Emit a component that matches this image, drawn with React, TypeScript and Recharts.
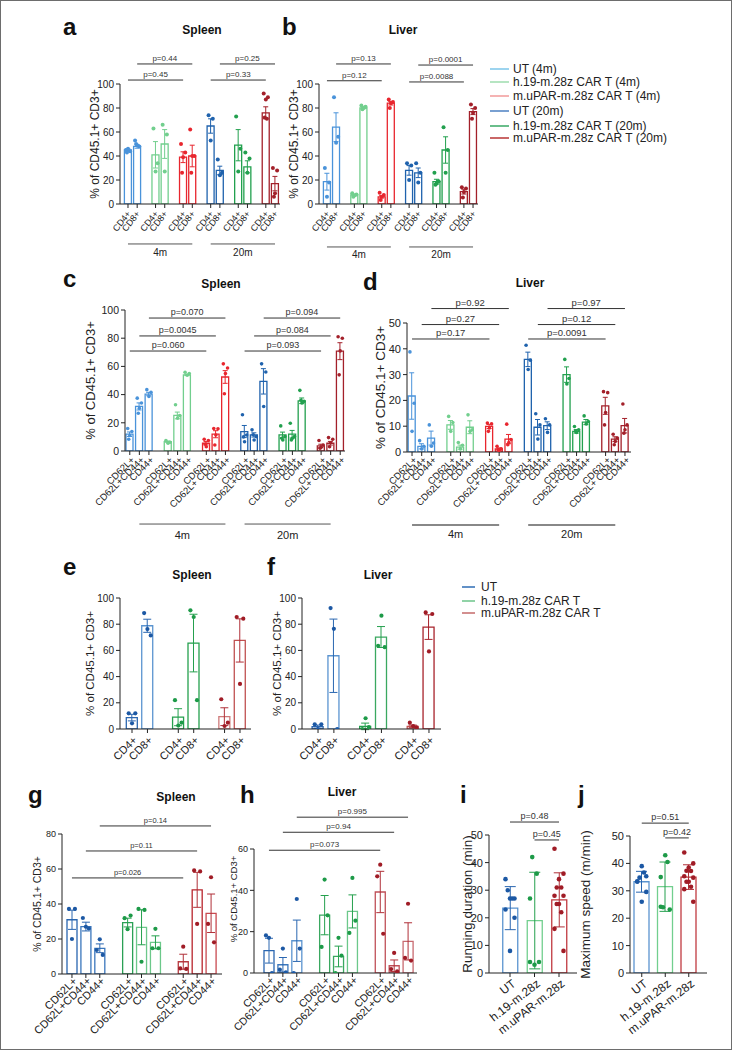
import React from 'react';
import { ComposedChart, Bar, Cell, ErrorBar, Scatter, XAxis, YAxis, ReferenceLine } from 'recharts';

const INK = '#222';
const FONT = '"Liberation Sans", Arial, Helvetica, sans-serif';

// series colours (4m light, 20m dark)
const UT4 = '#4a93da';
const H4 = '#72cf8e';
const U4 = '#e8262e';
const UT20 = '#1f62ad';
const H20 = '#22a04e';
const U20 = '#a3202a';
const SIX = [UT4, H4, U4, UT20, H20, U20];
const DOT3 = ['#1c58a4', '#1d9a48', '#a01c26'];
const ERR3 = ['#2a66b0', '#25a04e', '#b03038'];

// ---------- a: Spleen CD4/CD8, 4m vs 20m ----------
const aLabels = ['CD4+', 'CD8+', 'CD4+', 'CD8+', 'CD4+', 'CD8+', 'CD4+', 'CD8+', 'CD4+', 'CD8+', 'CD4+', 'CD8+'];
const aSeries = [0, 0, 1, 1, 2, 2, 3, 3, 4, 4, 5, 5];
const aMean = [45, 48, 41, 50, 39, 40, 65, 28, 49, 31, 76, 17];
const aSem = [1, 1.5, 11, 12, 4.5, 9, 6, 3.5, 13, 5, 5, 6];
const aDots = [
  [45, 44, 46, 43], [53, 48, 49, 50], [63, 34, 27], [66, 58, 27],
  [50, 43, 39, 26], [62, 40, 40, 26], [74, 71, 53], [37, 26, 24],
  [73, 46, 27], [43, 38, 26], [92, 89, 87, 72, 71], [30, 28, 9, 6],
];

// ---------- b: Liver CD4/CD8 ----------
const bMean = [18.6, 64, 7.5, 80, 6, 84, 28, 26, 18.6, 45, 10.3, 77];
const bSem = [7, 12, 0.7, 0.6, 1, 1.5, 4, 4, 2, 11, 2, 2.5];
const bDots = [
  [30, 18, 6], [89, 56, 51], [9, 8, 7, 6], [82, 81, 80, 79],
  [9.4, 7.5, 6, 3.3], [87, 85, 84, 80], [34, 32, 20], [34, 26, 18],
  [26, 19, 17, 16], [64, 45, 26], [14, 13, 10, 5.5], [83, 80, 76, 71],
];

// ---------- c: Spleen CD62L/CD44 ----------
const cLabels = [
  'CD62L+', 'CD62L+CD44+', 'CD44+', 'CD62L+', 'CD62L+CD44+', 'CD44+', 'CD62L+', 'CD62L+ CD44+', 'CD44+',
  'CD62L+', 'CD62L+CD44+', 'CD44+', 'CD62L+', 'CD62L+CD44+', 'CD44+', 'CD62L+', 'CD62L+ CD44+', 'CD44+',
];
const cSeries = [0, 0, 0, 1, 1, 1, 2, 2, 2, 3, 3, 3, 4, 4, 4, 5, 5, 5];
const cMean = [11.9, 31.6, 40.4, 6.6, 25.2, 54, 5.5, 11.9, 52.5, 13.8, 11.4, 49.4, 11.4, 11.9, 35.6, 3.6, 5.5, 70.8];
const cSem = [1.6, 2.5, 1.2, 0.5, 2.4, 0.5, 1.2, 2.5, 4.5, 4.3, 1.5, 9, 2, 2.7, 2, 1.2, 1.3, 6];
const cDots = [
  [16, 13.8, 11, 8.3], [37.5, 34, 30.4, 26.8], [43.5, 41.6, 38.7],
  [7.4, 6.2, 5.5], [32.8, 25.2, 23.3], [55.8, 54.9, 53.7],
  [8.3, 7.4, 3, 4.8], [16, 15.7, 11.4, 4.3], [61.8, 58.9, 54.9, 40.6],
  [25.7, 11.4, 6.6, 10], [15, 10.2, 7.8, 11.5], [61.8, 56, 31.6],
  [17.8, 10.2, 7.8, 9], [19.7, 10.2, 9, 7.8], [43, 35.2, 34, 36],
  [7.4, 4.3, 2.6, 1.9], [9.5, 8.3, 5.9, 3], [81, 80, 71, 54],
];

// ---------- d: Liver CD62L/CD44 ----------
const dMean = [21.7, 2.2, 5.4, 10.5, 1.9, 9.6, 9.9, 1.2, 5, 35.9, 9.6, 10.2, 30, 8, 11.6, 17.9, 5, 10.2];
const dSem = [9, 1, 2.7, 1.7, 0.8, 2.5, 0.8, 0.4, 1.8, 2.8, 3, 1.5, 3, 0.7, 1, 3.3, 0.9, 2.8];
const dDots = [
  [38.8, 18.9, 8], [4.4, 2.2, 1.2], [10.5, 3.5, 2.2],
  [13.8, 11.4, 8], [3.7, 2.6, 1.2], [14.4, 8.6, 8],
  [11.2, 10.9, 9.3, 8], [2.2, 1.2, 0.6, 0.9], [10.8, 4.8, 3.7, 2.8],
  [41.4, 35.6, 32], [14.8, 10.5, 5], [12.9, 10.5, 7.6],
  [35.9, 28.5, 26.4], [9.9, 8.6, 7.6, 8], [14, 11.8, 10.9],
  [23.4, 23, 15.3, 10.5], [6.9, 5.4, 4.1, 2.8], [18.6, 10.5, 8.6, 7.3],
];

// ---------- e / f: CD4/CD8 ----------
const efLabels = ['CD4+', 'CD8+', 'CD4+', 'CD8+', 'CD4+', 'CD8+'];
const efSeries = [0, 0, 1, 1, 2, 2];
const eMean = [8.7, 78.8, 9, 65.6, 9.4, 67.6];
const eSem = [2.5, 5, 6.5, 22, 6.8, 16.5];
const eDots = [[12, 12, 4.3], [88.5, 71.4, 76.3], [22, 4.8, 2.6], [90.6, 22, 85.5], [22.7, 4.8, 2.3], [85.5, 84.2, 34.4]];
const fMean = [1.8, 55.9, 2, 70.2, 2, 77.8];
const fSem = [1.2, 28, 2.5, 8, 1, 9.4];
const fDots = [[3.6, 3.6, 0], [92.3, 0, 76.5], [0, 1.5, 8.2], [63.5, 62.5, 86.5], [4.8, 1.3, 2.3], [89, 87.8, 59.2]];

// ---------- g / h: CD62L/CD44 ----------
const ghLabels = ['CD62L+', 'CD62L+CD44+', 'CD44+', 'CD62L+', 'CD62L+CD44+', 'CD44+', 'CD62L+', 'CD62L+CD44+', 'CD44+'];
const ghSeries = [0, 0, 0, 1, 1, 1, 2, 2, 2];
const gMean = [31, 27.1, 14.7, 29.4, 26.7, 18.1, 7, 48.1, 34.7];
const gSem = [5.5, 2.5, 2.5, 2.5, 10, 3.7, 4.3, 10, 11];
const gDots = [
  [37.2, 37.2, 20], [32, 26, 27], [13.7, 10.9, 19.8],
  [31.9, 33.4, 25.6], [37.2, 36.6, 7], [14.7, 14.7, 25.8],
  [3.2, 2.9, 15.6], [59.2, 58.6, 28.6], [28.6, 18.1, 55.3],
];
const hMean = [10.8, 4, 15.6, 28, 8, 29.8, 39.2, 3.5, 15.3];
const hSem = [6, 3.5, 10, 9.5, 5, 8, 10, 2.8, 9];
const hDots = [
  [18.2, 0, 17], [1.6, 0.3, 11.8], [0, 11.8, 35.8],
  [12.6, 27.9, 45.2], [0, 8.4, 17], [19.4, 25.3, 46],
  [46.8, 19, 52.4], [1.9, 0.8, 9.7], [7.3, 6, 33.5],
];

// ---------- i / j: treadmill ----------
const ijLabels = ['UT', 'h.19-m.28z', 'm.uPAR-m.28z'];
const ijSeries = [0, 1, 2];
const iMean = [23.5, 19, 26.5];
const iSd = [7.8, 17.5, 9.8];
const iDots = [
  [34, 27, 27, 30, 27, 23, 20, 8],
  [4, 4, 3, 42, 36, 27],
  [45, 36, 34, 31, 31, 28, 28, 25, 25, 22, 16, 8],
];
const jMean = [33.3, 31.5, 35];
const jSd = [3.8, 9, 4.5];
const jDots = [
  [33.5, 35.3, 39, 34.8, 36.7, 33.3, 29.6, 26],
  [24.2, 23.2, 43, 24, 40.5, 35],
  [44, 40, 38.5, 37.3, 37.2, 35.3, 34.8, 33.3, 33.3, 31.5, 30.6, 26],
];

type Bracket = [number, number, number, string];

interface PanelCfg {
  id: string;
  labels: string[];
  means: number[];
  errs: number[];
  dots: number[][];
  series: number[];
  groupSize: number;
  strokes: string[];
  dotColors: string[];
  errColors: string[];
  x0: number; x1: number; yTop: number; yBot: number;
  padL: number; padR: number; mT: number; xH: number;
  domain: [number, number]; ticks: number[];
  yLabel: string; yLabelFont: number; yLabelDx: number; yLabelDy: number;
  yTickFont: number; xFont: number; xAngle: number; tdx: number; tdy: number; pFont: number;
  barSize: number; capW: number; dotR: number;
  brackets: Bracket[];
  groups: Bracket[];
  groupFont: number; groupOffset: number; groupStroke: string; groupWidth: number;
}

const OFFS = [-0.3, 0.3, 0, -0.15, 0.15, -0.3, 0.3, 0, -0.15, 0.15, -0.3, 0.3];

function buildRows(c: PanelCfg) {
  const rows: any[] = [];
  c.labels.forEach((label, i) => {
    if (i > 0 && i % c.groupSize === 0) rows.push({ key: `${c.id}gap${i}`, label: '', mean: null });
    const row: any = { key: `${c.id}${i}`, label, mean: c.means[i], stroke: c.strokes[i], dot: c.dotColors[i] };
    row[`e${c.series[i]}`] = c.errs[i];
    c.dots[i].forEach((v, k) => {
      row[`d${k}`] = v;
    });
    rows.push(row);
  });
  return rows;
}

function Panel({ c }: { c: PanelCfg }) {
  const rows = buildRows(c);
  const yW = c.yLabelDx + 12;
  const left = c.x0 - yW;
  const top = c.yTop - c.mT;
  const mR = 8;
  const width = c.x1 - left + mR;
  const plotH = c.yBot - c.yTop;
  const height = c.mT + plotH + c.xH;
  const nDots = Math.max(...c.dots.map((d) => d.length));
  const byKey = new Map(rows.map((r) => [r.key, r]));
  const key = (i: number) => `${c.id}${i}`;

  const renderTick = (p: any) => {
    const r = byKey.get(p.payload?.value);
    if (!r || !r.label) return <g />;
    const tx = p.x + c.tdx;
    const ty = p.y + c.tdy;
    return (
      <g>
        <line x1={p.x} x2={p.x} y1={p.y} y2={p.y + 4} stroke={INK} />
        <text x={tx} y={ty} transform={`rotate(${-c.xAngle} ${tx} ${ty})`} textAnchor="end" dominantBaseline="central" fontSize={c.xFont} fill={INK}>
          {r.label}
        </text>
      </g>
    );
  };

  const lx = yW - c.yLabelDx;
  const ly = c.mT + plotH / 2 + c.yLabelDy;
  const renderYLabel = () => (
    <text x={lx} y={ly} transform={`rotate(-90 ${lx} ${ly})`} textAnchor="middle" dominantBaseline="central" fontSize={c.yLabelFont} fill={INK}>
      {c.yLabel}
    </text>
  );

  const dotShape = (k: number) => (p: any) => {
    const v = p.payload ? p.payload[`d${k}`] : null;
    if (v == null || p.cx == null || p.cy == null) return <g />;
    return <circle cx={p.cx + OFFS[k] * c.barSize} cy={p.cy} r={c.dotR} fill={p.payload.dot} />;
  };

  return (
    <div style={{ position: 'absolute', left, top }}>
      <ComposedChart width={width} height={height} data={rows} margin={{ top: c.mT, right: mR, bottom: 0, left: 0 }}>
        <XAxis
          dataKey="key"
          type="category"
          interval={0}
          padding={{ left: c.padL, right: c.padR }}
          height={c.xH}
          tickLine={false}
          tickSize={0}
          tickMargin={0}
          axisLine={{ stroke: INK }}
          tick={renderTick}
        />
        <YAxis
          type="number"
          domain={c.domain}
          ticks={c.ticks}
          interval={0}
          allowDataOverflow
          width={yW}
          tickSize={4}
          tickMargin={2}
          axisLine={{ stroke: INK }}
          tickLine={{ stroke: INK }}
          tick={{ fontSize: c.yTickFont, fill: INK }}
          label={{ content: renderYLabel }}
        />
        <Bar dataKey="mean" barSize={c.barSize} fill="none" isAnimationActive={false}>
          {rows.map((r) => (
            <Cell key={r.key} stroke={r.stroke} fill="none" strokeWidth={1.3} />
          ))}
          {c.errColors.map((col, s) => (
            <ErrorBar key={s} dataKey={`e${s}`} width={c.capW} stroke={col} strokeWidth={1} direction="y" />
          ))}
        </Bar>
        {Array.from({ length: nDots }, (_, k) => (
          <Scatter key={`d${k}`} dataKey={`d${k}`} isAnimationActive={false} legendType="none" shape={dotShape(k)} />
        ))}
        {c.brackets.map(([a, b, y, t], i) => (
          <ReferenceLine
            key={`br${i}`}
            segment={[{ x: key(a), y }, { x: key(b), y }]}
            ifOverflow="visible"
            stroke="#333"
            strokeWidth={1}
            label={{ value: t, position: 'top', offset: 3, fontSize: c.pFont, fill: '#333' }}
          />
        ))}
        {c.groups.map(([a, b, y, t], i) => (
          <ReferenceLine
            key={`gr${i}`}
            segment={[{ x: key(a), y }, { x: key(b), y }]}
            ifOverflow="visible"
            stroke={c.groupStroke}
            strokeWidth={c.groupWidth}
            label={{ value: t, position: 'bottom', offset: c.groupOffset, fontSize: c.groupFont, fill: INK }}
          />
        ))}
      </ComposedChart>
    </div>
  );
}

const sixStrokes = (s: number[]) => s.map((i) => SIX[i]);

const base = {
  errColors: SIX,
  yLabel: '% of CD45.1+ CD3+',
  yLabelDy: 0,
  tdx: 3,
  tdy: 6,
  groupFont: 10,
  groupOffset: 12,
  groupStroke: '#555',
  groupWidth: 1,
  brackets: [] as Bracket[],
  groups: [] as Bracket[],
};

const panels: PanelCfg[] = [
  {
    ...base, id: 'a', labels: aLabels, means: aMean, errs: aSem, dots: aDots, series: aSeries, groupSize: 2,
    strokes: sixStrokes(aSeries), dotColors: sixStrokes(aSeries),
    x0: 120, x1: 280, yTop: 84, yBot: 204, padL: 3.4, padR: 0.4, mT: 40, xH: 62,
    domain: [0, 100], ticks: [0, 20, 40, 60, 80, 100],
    yLabelFont: 12, yLabelDx: 25, yTickFont: 10, xFont: 9, xAngle: 52, tdx: 1, tdy: 8, pFont: 8,
    barSize: 7, capW: 2.5, dotR: 2,
    brackets: [[0, 4, 103.3, 'p=0.45'], [1, 5, 116.7, 'p=0.44'], [6, 10, 103.3, 'p=0.33'], [7, 11, 116.7, 'p=0.25']],
    groups: [[0, 5, -33.3, '4m'], [6, 11, -33.3, '20m']], groupOffset: 5,
  },
  {
    ...base, id: 'b', labels: aLabels, means: bMean, errs: bSem, dots: bDots, series: aSeries, groupSize: 2,
    strokes: sixStrokes(aSeries), dotColors: sixStrokes(aSeries),
    x0: 319, x1: 478, yTop: 84, yBot: 204, padL: 3.4, padR: 0.4, mT: 40, xH: 64,
    domain: [0, 100], ticks: [0, 20, 40, 60, 80, 100],
    yLabelFont: 12, yLabelDx: 25, yTickFont: 10, xFont: 9, xAngle: 52, tdx: 1, tdy: 8, pFont: 8,
    barSize: 7, capW: 2.5, dotR: 2,
    brackets: [[0, 4, 102.7, 'p=0.12'], [1, 5, 116.7, 'p=0.13'], [6, 10, 101.7, 'p=0.0088'], [7, 11, 115.8, 'p=0.0001']],
    groups: [[0, 5, -35.8, '4m'], [6, 11, -35.8, '20m']], groupOffset: 4,
  },
  {
    ...base, id: 'c', labels: cLabels, means: cMean, errs: cSem, dots: cDots, series: cSeries, groupSize: 3,
    strokes: sixStrokes(cSeries), dotColors: sixStrokes(cSeries),
    x0: 125, x1: 345, yTop: 310, yBot: 451, padL: 0, padR: 0, mT: 12, xH: 95,
    domain: [0, 100], ticks: [0, 20, 40, 60, 80, 100],
    yLabelFont: 13, yLabelDx: 35, yTickFont: 10.5, xFont: 9.5, xAngle: 45, tdx: 3, tdy: 7, pFont: 9,
    barSize: 7, capW: 2.5, dotR: 1.8,
    brackets: [[0, 6, 70.9, 'p=0.060'], [1, 7, 81.6, 'p=0.0045'], [2, 8, 94.3, 'p=0.070'], [9, 15, 70.9, 'p=0.093'], [10, 16, 81.6, 'p=0.084'], [11, 17, 94.3, 'p=0.094']],
    groups: [[1, 8, -51.8, '4m'], [9, 16, -51.8, '20m']], groupFont: 11, groupOffset: 7,
  },
  {
    ...base, id: 'd', labels: cLabels, means: dMean, errs: dSem, dots: dDots, series: cSeries, groupSize: 3,
    strokes: sixStrokes(cSeries), dotColors: sixStrokes(cSeries),
    x0: 407, x1: 631, yTop: 323, yBot: 452, padL: 0.2, padR: 1.2, mT: 36, xH: 95,
    domain: [0, 50], ticks: [0, 10, 20, 30, 40, 50],
    yLabelFont: 13.5, yLabelDx: 27, yTickFont: 11, xFont: 9.5, xAngle: 45, tdx: 3, tdy: 6, pFont: 9.5,
    barSize: 7, capW: 2.5, dotR: 1.8,
    brackets: [[0, 6, 43.8, 'p=0.17'], [1, 7, 49.4, 'p=0.27'], [2, 8, 55.6, 'p=0.92'], [9, 15, 43.8, 'p=0.0091'], [10, 16, 49.4, 'p=0.12'], [11, 17, 55.6, 'p=0.97']],
    groups: [[0, 7, -28.3, '4m'], [9, 16, -28.3, '20m']], groupFont: 11, groupOffset: 5, groupStroke: '#888', groupWidth: 2,
  },
  {
    ...base, id: 'e', labels: efLabels, means: eMean, errs: eSem, dots: eDots, series: efSeries, groupSize: 2,
    strokes: ['#2a66b0', '#5b94d0', '#25a04e', '#25a04e', '#cf7a7a', '#c05050'], dotColors: efSeries.map((s) => DOT3[s]),
    errColors: ERR3,
    x0: 120, x1: 251, yTop: 598, yBot: 729, padL: 4.3, padR: 3.3, mT: 10, xH: 48,
    domain: [0, 100], ticks: [0, 20, 40, 60, 80, 100],
    yLabelFont: 11.5, yLabelDx: 30, yTickFont: 10, xFont: 11, xAngle: 45, tdx: 3, tdy: 9, pFont: 8,
    barSize: 11, capW: 4, dotR: 2.1,
  },
  {
    ...base, id: 'f', labels: efLabels, means: fMean, errs: fSem, dots: fDots, series: efSeries, groupSize: 2,
    strokes: ['#2a66b0', '#5b94d0', '#25a04e', '#3aa860', '#c05050', '#a8232c'], dotColors: efSeries.map((s) => DOT3[s]),
    errColors: ['#2a66b0', '#25a04e', '#a8232c'],
    x0: 302, x1: 441, yTop: 598, yBot: 729, padL: 8.1, padR: 4.1, mT: 10, xH: 48,
    domain: [0, 100], ticks: [0, 20, 40, 60, 80, 100],
    yLabelFont: 11.5, yLabelDx: 25, yTickFont: 10, xFont: 11, xAngle: 45, tdx: 3, tdy: 9, pFont: 8,
    barSize: 11, capW: 4, dotR: 2.1,
  },
  {
    ...base, id: 'g', labels: ghLabels, means: gMean, errs: gSem, dots: gDots, series: ghSeries, groupSize: 3,
    strokes: ['#2a66b0', '#3a76bc', '#3a76bc', '#2aa055', '#6cc88a', '#6cc88a', '#b83a40', '#b8242c', '#c84a50'],
    dotColors: ghSeries.map((s) => DOT3[s]), errColors: ERR3,
    x0: 62, x1: 222, yTop: 834, yBot: 974, padL: 3, padR: 4, mT: 30, xH: 72,
    domain: [0, 80], ticks: [0, 20, 40, 60, 80],
    yLabelFont: 10.5, yLabelDx: 25, yTickFont: 9, xFont: 11, xAngle: 45, tdx: 3, tdy: 5, pFont: 7.5,
    barSize: 10, capW: 4, dotR: 2.1,
    brackets: [[0, 6, 54.9, 'p=0.026'], [1, 7, 70.3, 'p=0.11'], [2, 8, 84.6, 'p=0.14']],
  },
  {
    ...base, id: 'h', labels: ghLabels, means: hMean, errs: hSem, dots: hDots, series: ghSeries, groupSize: 3,
    strokes: ['#2a66b0', '#3a76bc', '#5b94d0', '#3aa860', '#3aa860', '#6cc88a', '#c05058', '#c05058', '#c86a70'],
    dotColors: ghSeries.map((s) => DOT3[s]), errColors: ERR3,
    x0: 254, x1: 417, yTop: 849, yBot: 973, padL: 8, padR: 2, mT: 52, xH: 72,
    domain: [0, 60], ticks: [0, 20, 40, 60],
    yLabelFont: 9.5, yLabelDx: 21, yLabelDy: -12, yTickFont: 9, xFont: 10.5, xAngle: 45, tdx: 3, tdy: 5, pFont: 8,
    barSize: 10, capW: 4, dotR: 2.1,
    brackets: [[0, 6, 59.4, 'p=0.073'], [1, 7, 68.1, 'p=0.94'], [2, 8, 75.4, 'p=0.995']],
  },
  {
    ...base, id: 'i', labels: ijLabels, means: iMean, errs: iSd, dots: iDots, series: ijSeries, groupSize: 3,
    strokes: ['#5b94d0', '#72cf8e', '#c03a40'], dotColors: DOT3, errColors: ERR3,
    x0: 489, x1: 577, yTop: 835, yBot: 973, padL: 8.75, padR: 5.75, mT: 32, xH: 72,
    domain: [0, 50], ticks: [0, 10, 20, 30, 40, 50],
    yLabel: 'Running duration (min)', yLabelFont: 13.5, yLabelDx: 22, yTickFont: 11, xFont: 12, xAngle: 38, tdx: 4, tdy: 9, pFont: 9,
    barSize: 15, capW: 5.5, dotR: 2.3,
    brackets: [[0, 2, 54.7, 'p=0.48'], [1, 2, 48.2, 'p=0.45']],
  },
  {
    ...base, id: 'j', labels: ijLabels, means: jMean, errs: jSd, dots: jDots, series: ijSeries, groupSize: 3,
    strokes: ['#5b94d0', '#72cf8e', '#c03a40'], dotColors: DOT3, errColors: ERR3,
    x0: 630, x1: 707, yTop: 836, yBot: 973, padL: 0, padR: 6.5, mT: 32, xH: 72,
    domain: [0, 50], ticks: [0, 10, 20, 30, 40, 50],
    yLabel: 'Maximum speed (m/min)', yLabelFont: 13.5, yLabelDx: 45, yTickFont: 11, xFont: 12, xAngle: 38, tdx: 4, tdy: 9, pFont: 9,
    barSize: 15, capW: 5.5, dotR: 2.3,
    brackets: [[0, 2, 54.7, 'p=0.51'], [1, 2, 49.3, 'p=0.42']],
  },
];

const LETTERS: [string, number, number][] = [
  ['a', 63, 35], ['b', 282, 35], ['c', 63, 287], ['d', 363, 290], ['e', 63, 575],
  ['f', 267, 575], ['g', 28, 803], ['h', 240, 803], ['i', 460, 803], ['j', 578, 803],
];
const TITLES: [string, number, number][] = [
  ['Spleen', 202, 34], ['Liver', 403, 34], ['Spleen', 221, 288], ['Liver', 530, 287],
  ['Spleen', 192, 579], ['Liver', 378, 579], ['Spleen', 176, 801], ['Liver', 342, 796],
];
const LEGEND_TIME: [string, string][] = [
  ['UT (4m)', '#7cc6ea'],
  ['h.19-m.28z CAR T (4m)', '#9edcae'],
  ['m.uPAR-m.28z CAR T (4m)', '#f29a9a'],
  ['UT (20m)', '#4c80c2'],
  ['h.19-m.28z CAR T (20m)', '#38a864'],
  ['m.uPAR-m.28z CAR T (20m)', '#b83434'],
];
const LEGEND_TIME_Y = [69, 82, 96, 111, 126, 138];
const LEGEND_GROUP: [string, string][] = [
  ['UT', '#2e6cb4'],
  ['h.19-m.28z CAR T', '#6cc58a'],
  ['m.uPAR-m.28z CAR T', '#c46a6a'],
];
const LEGEND_GROUP_Y = [587, 601, 613];

export default function App() {
  return (
    <div
      style={{
        position: 'absolute', left: 0, top: 0, width: 732, height: 1050, background: '#fff',
        boxShadow: 'inset 0 0 0 1px #6d6d6d', fontFamily: FONT, overflow: 'hidden',
      }}
    >
      <svg width={732} height={1050} style={{ position: 'absolute', left: 0, top: 0 }}>
        {LETTERS.map(([t, x, y]) => (
          <text key={t} x={x} y={y} fontSize={24} fontWeight="bold" fill="#111">{t}</text>
        ))}
        {TITLES.map(([t, x, y], i) => (
          <text key={i} x={x} y={y} fontSize={12} fontWeight="bold" textAnchor="middle" fill="#111">{t}</text>
        ))}
        {LEGEND_TIME.map(([t, col], i) => (
          <g key={t}>
            <line x1={490} x2={509} y1={LEGEND_TIME_Y[i]} y2={LEGEND_TIME_Y[i]} stroke={col} strokeWidth={1.5} />
            <text x={513} y={LEGEND_TIME_Y[i]} dominantBaseline="central" fontSize={12} fill="#222">{t}</text>
          </g>
        ))}
        {LEGEND_GROUP.map(([t, col], i) => (
          <g key={t}>
            <line x1={462} x2={475} y1={LEGEND_GROUP_Y[i]} y2={LEGEND_GROUP_Y[i]} stroke={col} strokeWidth={1.5} />
            <text x={481} y={LEGEND_GROUP_Y[i]} dominantBaseline="central" fontSize={12} fill="#222">{t}</text>
          </g>
        ))}
      </svg>
      {panels.map((p) => (
        <Panel key={p.id} c={p} />
      ))}
    </div>
  );
}
